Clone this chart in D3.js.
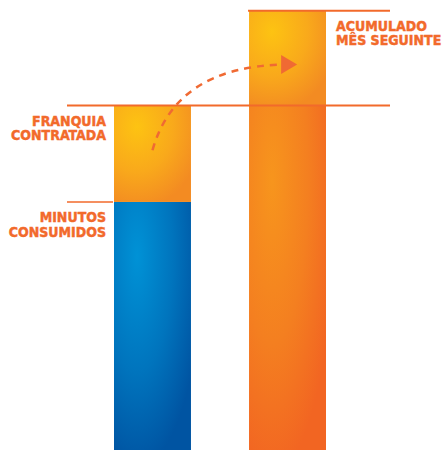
<!DOCTYPE html>
<html>
<head>
<meta charset="utf-8">
<script src="https://cdn.jsdelivr.net/npm/d3@7"></script>
<style>
  body { margin: 0; background: #fff; }
  svg { display: block; }
  .label { font-family: 'DejaVu Sans Condensed', 'DejaVu Sans', sans-serif; font-weight: bold; font-size: 14px; fill: #f26a2b; stroke: #f26a2b; stroke-width: 0.45px; }
</style>
</head>
<body>
<div id="chart"></div>
<script>
// months shown as bars
const categories = ['atual', 'seguinte'];
// minutes (franquia = 100)
const minutosConsumidos = 72;
const franquiaContratada = 100;
const acumulado = 27.5;
// label texts
const labelFranquia = ['FRANQUIA', 'CONTRATADA'];
const labelConsumidos = ['MINUTOS', 'CONSUMIDOS'];
const labelAcumulado = ['ACUMULADO', 'MÊS SEGUINTE'];

const width = 443, height = 450;
const lineColor = '#f26a2b';

const svg = d3.select('#chart').append('svg')
  .attr('width', width)
  .attr('height', height);

const x = d3.scaleBand()
  .domain(categories)
  .range([114, 326])
  .paddingInner(0.43)
  .paddingOuter(0);

const y = d3.scaleLinear()
  .domain([0, franquiaContratada])
  .range([height, 105.5]);

const bw = x.bandwidth();

// gradients
const defs = svg.append('defs');
const grads = {
  blue: ['#0092d6', '#0074bd', '#0054a2'],
  saldo: ['#fdc312', '#f9a91b', '#f38b22'],
  orange: ['#f7951d', '#f47f20', '#f26522']
};
Object.entries(grads).forEach(([k, c]) => {
  const g = defs.append('radialGradient')
    .attr('id', 'g-' + k)
    .attr('cx', 0.3).attr('cy', 0.22)
    .attr('fx', 0.3).attr('fy', 0.22)
    .attr('r', 0.85);
  g.append('stop').attr('offset', 0).attr('stop-color', c[0]);
  g.append('stop').attr('offset', 0.55).attr('stop-color', c[1]);
  g.append('stop').attr('offset', 1).attr('stop-color', c[2]);
});

// stacked segments
const segments = [
  { cat: categories[0], from: 0, to: minutosConsumidos, kind: 'blue' },
  { cat: categories[0], from: minutosConsumidos, to: franquiaContratada, kind: 'saldo' },
  { cat: categories[1], from: 0, to: franquiaContratada, kind: 'orange' },
  { cat: categories[1], from: franquiaContratada, to: franquiaContratada + acumulado, kind: 'saldo' }
];

svg.selectAll('rect.seg')
  .data(segments)
  .enter()
  .append('rect')
  .attr('class', 'seg')
  .attr('x', d => x(d.cat))
  .attr('y', d => y(d.to))
  .attr('width', bw)
  .attr('height', d => y(d.from) - y(d.to))
  .attr('fill', d => 'url(#g-' + d.kind + ')');

// reference lines
const refLines = [
  { v: minutosConsumidos, x1: 67, x2: x(categories[0]) - 1, w: 1.5 },
  { v: franquiaContratada, x1: 67, x2: 390, w: 2.2 },
  { v: franquiaContratada + acumulado, x1: x(categories[1]) - 1, x2: 390, w: 2.2 }
];
svg.selectAll('line.ref')
  .data(refLines)
  .enter()
  .append('line')
  .attr('class', 'ref')
  .attr('x1', d => d.x1)
  .attr('x2', d => d.x2)
  .attr('y1', d => y(d.v))
  .attr('y2', d => y(d.v))
  .attr('stroke', lineColor)
  .attr('stroke-width', d => d.w);

// labels
function addLabel(lines, v, xPos, anchor) {
  const t = svg.append('text')
    .attr('class', 'label')
    .attr('text-anchor', anchor);
  lines.forEach((s, i) => {
    t.append('tspan')
      .attr('x', xPos)
      .attr('y', y(v) + 20 + i * 14.7)
      .text(s);
  });
}
addLabel(labelFranquia, franquiaContratada, x(categories[0]) - 8, 'end');
addLabel(labelConsumidos, minutosConsumidos, x(categories[0]) - 8, 'end');
addLabel(labelAcumulado, franquiaContratada + acumulado, x(categories[1]) + bw + 10, 'start');

// dashed arrow: saldo moves to next month
const p0 = [x(categories[0]) + bw * 0.5, y(87)];
const c0 = [x(categories[0]) + bw * 0.8, y(111)];
const p1 = [x(categories[1]) + bw * 0.43, y(111.9)];
const path = d3.path();
path.moveTo(p0[0], p0[1]);
path.quadraticCurveTo(c0[0], c0[1], p1[0], p1[1]);
svg.append('path')
  .attr('d', path.toString())
  .attr('fill', 'none')
  .attr('stroke', '#f06a33')
  .attr('stroke-width', 2.5)
  .attr('stroke-dasharray', '7,6');

svg.append('path')
  .attr('d', 'M0,-9.5L16,0L0,9.5Z')
  .attr('transform', `translate(${p1[0] - 1},${p1[1]})`)
  .attr('fill', '#f06a33');
</script>
</body>
</html>
